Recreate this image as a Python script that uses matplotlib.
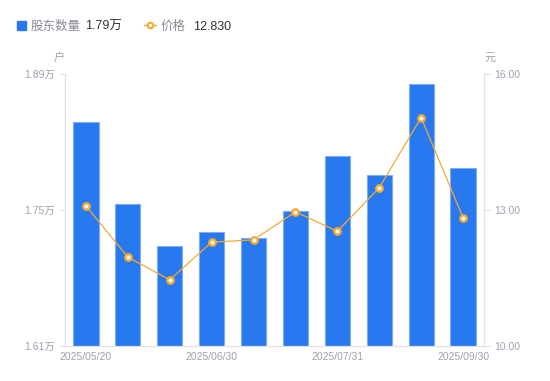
import numpy as np
import matplotlib.pyplot as plt

plt.rcParams['font.family'] = ['Liberation Sans', 'Noto Sans CJK SC']

# data
dates = ["2025/05/20", "2025/05/31", "2025/06/20", "2025/06/30", "2025/07/10",
         "2025/07/20", "2025/07/31", "2025/08/20", "2025/08/31", "2025/09/30"]
holders = [1.8403, 1.7562, 1.7129, 1.7277, 1.7215, 1.7487, 1.8056, 1.7857, 1.8794, 1.7929]  # 万户
price = [13.09, 11.96, 11.46, 12.29, 12.34, 12.96, 12.53, 13.49, 15.04, 12.83]
left_ticks = [1.61, 1.75, 1.89]
right_ticks = [10.0, 13.0, 16.0]
shown = [0, 3, 6, 9]

blue = "#2878F0"
orange = "#F5AA30"
grey = "#A0A0AE"
axis_col = "#E2E2E6"

fig = plt.figure(figsize=(5.5, 3.81), dpi=100)
ax = fig.add_axes([65/550, 35/381, 419/550, 272/381])
ax2 = ax.twinx()

x = np.arange(len(dates))
ax.bar(x, holders, width=0.6, color=blue, edgecolor="#7FAEF5", linewidth=0.8, zorder=2)
ax.set_xlim(-0.5, len(dates) - 0.5)
ax.set_ylim(left_ticks[0], left_ticks[-1])
ax.set_yticks(left_ticks)
ax.set_yticklabels([f"{v:.2f}万" for v in left_ticks])
ax.set_xticks([x[i] for i in shown])
ax.set_xticklabels([dates[i] for i in shown])

ax2.plot(x, price, color=orange, linewidth=0.9, marker="o", markersize=4.6,
         markerfacecolor="white", markeredgecolor=orange, markeredgewidth=1.7, zorder=3)
ax2.set_ylim(right_ticks[0], right_ticks[-1])
ax2.set_yticks(right_ticks)
ax2.set_yticklabels([f"{v:.2f}" for v in right_ticks])

for a in (ax, ax2):
    for s in a.spines.values():
        s.set_visible(False)
    a.tick_params(colors=axis_col, labelcolor=grey, labelsize=7.5, length=4, width=0.8)
ax.spines['left'].set_visible(True)
ax.spines['bottom'].set_visible(True)
ax2.spines['right'].set_visible(True)
for s in (ax.spines['left'], ax.spines['bottom'], ax2.spines['right']):
    s.set_color(axis_col)
    s.set_linewidth(0.9)
ax.tick_params(axis='x', length=0, pad=4)

fig.text(59/550, 1 - 58/381, "户", color=grey, fontsize=8, ha="center", va="center")
fig.text(490/550, 1 - 58/381, "元", color=grey, fontsize=8, ha="center", va="center")

# legend
ly = 1 - 25/381
ty = 1 - 26.5/381
fig.patches.append(plt.Rectangle((16.5/550, 1 - 29.5/381), 9/550, 9/381, color=blue,
                                 transform=fig.transFigure, figure=fig))
fig.text(31/550, ty, "股东数量", color="#8A8A96", fontsize=9, va="center")
fig.text(85/550, ty, "1.79万", color="#333333", fontsize=9, va="center")
fig.lines.append(plt.Line2D([144/550, 156/550], [ly, ly], color=orange, linewidth=1,
                            transform=fig.transFigure, figure=fig))
fig.lines.append(plt.Line2D([150/550], [ly], color=orange, marker="o", markersize=4,
                            markerfacecolor="white", markeredgewidth=1.5,
                            transform=fig.transFigure, figure=fig))
fig.text(161/550, ty, "价格", color="#8A8A96", fontsize=9, va="center")
fig.text(193/550, ty, "12.830", color="#333333", fontsize=9, va="center")

fig.savefig("out.png", dpi=100)
